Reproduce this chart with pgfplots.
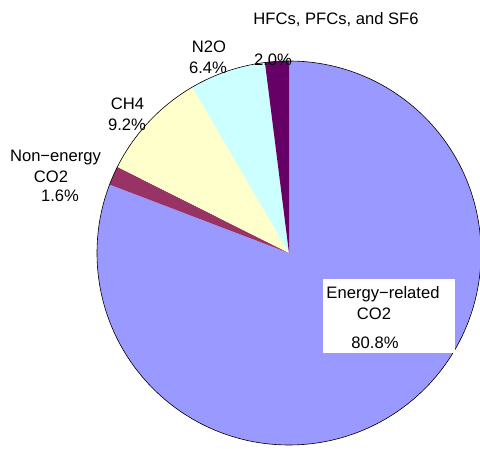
\documentclass[border=0pt]{standalone}
\usepackage{pgfplots}
\usepackage{pgfplotstable}
\pgfplotsset{compat=1.18}
\usepackage{fontspec}
\setmainfont{Liberation Sans}
\definecolor{cEnergy}{HTML}{9999FF}
\definecolor{cNonEnergy}{HTML}{993366}
\definecolor{cCHfour}{HTML}{FFFFCC}
\definecolor{cNtwoO}{HTML}{CCFFFF}
\definecolor{cHFC}{HTML}{660066}
\pgfplotstableread{
name value col
Energy 80.8 cEnergy
NonEnergy 1.6 cNonEnergy
CH4 9.2 cCHfour
N2O 6.4 cNtwoO
HFC 2.0 cHFC
}\piedata
\begin{document}
\begin{tikzpicture}
\useasboundingbox (0,0) rectangle (480pt,449pt);
\begin{axis}[scale only axis, width=480pt, height=449pt,
  xmin=0, xmax=480, ymin=0, ymax=449, hide axis, clip=false,
  at={(0,0)}, anchor=south west]
\def\startang{90}
\pgfplotstablegetrowsof{\piedata}
\pgfmathtruncatemacro\nrows{\pgfplotsretval-1}
\pgfplotsforeachungrouped \i in {0,...,\nrows}{%
  \pgfplotstablegetelem{\i}{value}\of\piedata \let\val\pgfplotsretval
  \pgfplotstablegetelem{\i}{col}\of\piedata \let\col\pgfplotsretval
  \pgfmathsetmacro\endang{\startang-3.6*\val}%
  \pgfmathsetmacro\sx{289+192*cos(\startang)}%
  \pgfmathsetmacro\sy{196+192*sin(\startang)}%
  \edef\temp{\noexpand\fill[\col] (axis cs:289,196) -- (axis cs:\sx,\sy) arc[start angle=\startang, end angle=\endang, radius=192pt] -- cycle;}%
  \temp
  \let\startang\endang
}
\draw[line width=0.6pt] (axis cs:289,196) circle[radius=192pt];
\fill[white] (axis cs:323,96) rectangle (axis cs:455,170);
\tikzset{lbl/.style={anchor=base, font=\fontsize{16.6}{19}\selectfont, inner sep=0pt}}
\node[lbl] at (axis cs:336,424) {HFCs, PFCs, and SF6};
\node[lbl] at (axis cs:273,383) {2.0\%};
\node[lbl] at (axis cs:209,396) {N2O};
\node[lbl] at (axis cs:208,375) {6.4\%};
\node[lbl] at (axis cs:127.5,339) {CH4};
\node[lbl] at (axis cs:127,318) {9.2\%};
\node[lbl] at (axis cs:55.5,287) {Non−energy};
\node[lbl] at (axis cs:51,266) {CO2};
\node[lbl] at (axis cs:60,247) {1.6\%};
\node[lbl] at (axis cs:383,150) {Energy−related};
\node[lbl] at (axis cs:374,129) {CO2};
\node[lbl] at (axis cs:375,100) {80.8\%};
\end{axis}
\end{tikzpicture}
\end{document}
